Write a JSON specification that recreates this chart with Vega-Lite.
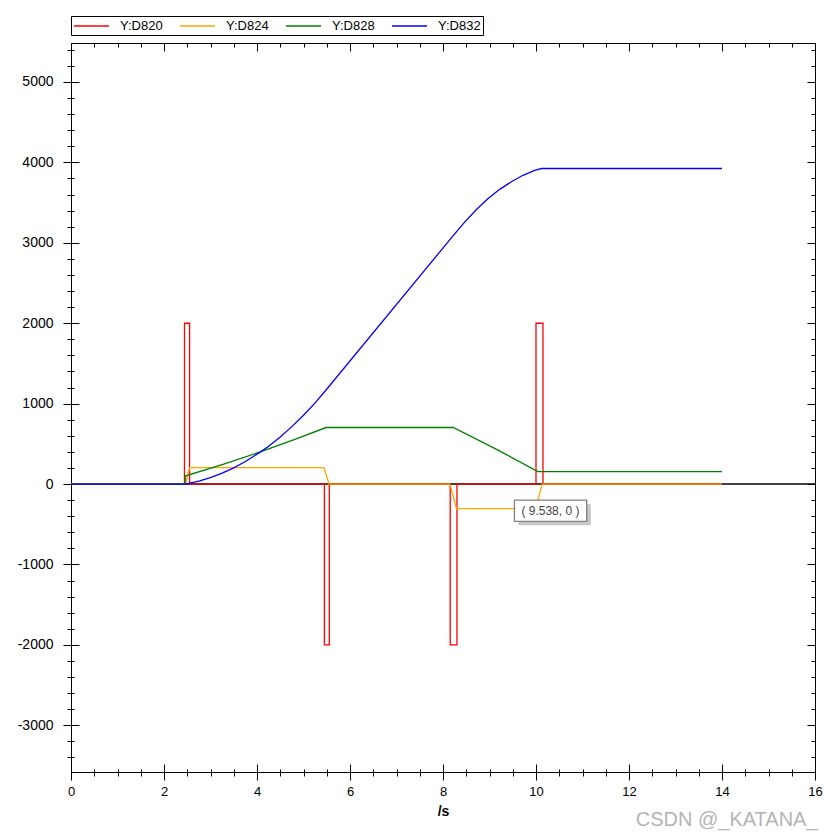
{
  "$schema": "https://vega.github.io/schema/vega-lite/v6.json",
  "width": 744,
  "height": 729,
  "autosize": {"type": "none"},
  "padding": {"left": 71, "top": 43, "right": 25, "bottom": 68},
  "background": "white",
  "view": {"stroke": "black", "strokeWidth": 1},
  "config": {
    "axis": {"domain": false, "grid": false, "tickColor": "black", "tickWidth": 1, "labelColor": "black", "labelFont": "Liberation Sans", "titleFont": "Liberation Sans", "titleColor": "black"},
    "legend": {"labelFont": "Liberation Sans"}
  },
  "datasets": {
    "series": [
      {"s": "Y:D820", "i": 0, "t": 0, "v": 0},
      {"s": "Y:D820", "i": 1, "t": 2.44, "v": 0},
      {"s": "Y:D820", "i": 2, "t": 2.44, "v": 2000},
      {"s": "Y:D820", "i": 3, "t": 2.55, "v": 2000},
      {"s": "Y:D820", "i": 4, "t": 2.55, "v": 0},
      {"s": "Y:D820", "i": 5, "t": 5.45, "v": 0},
      {"s": "Y:D820", "i": 6, "t": 5.45, "v": -2000},
      {"s": "Y:D820", "i": 7, "t": 5.555, "v": -2000},
      {"s": "Y:D820", "i": 8, "t": 5.555, "v": 0},
      {"s": "Y:D820", "i": 9, "t": 8.155, "v": 0},
      {"s": "Y:D820", "i": 10, "t": 8.155, "v": -2000},
      {"s": "Y:D820", "i": 11, "t": 8.3, "v": -2000},
      {"s": "Y:D820", "i": 12, "t": 8.3, "v": 0},
      {"s": "Y:D820", "i": 13, "t": 10.0, "v": 0},
      {"s": "Y:D820", "i": 14, "t": 10.0, "v": 2000},
      {"s": "Y:D820", "i": 15, "t": 10.15, "v": 2000},
      {"s": "Y:D820", "i": 16, "t": 10.15, "v": 0},
      {"s": "Y:D820", "i": 17, "t": 14.0, "v": 0},
      {"s": "Y:D824", "i": 0, "t": 0, "v": 0},
      {"s": "Y:D824", "i": 1, "t": 2.46, "v": 0},
      {"s": "Y:D824", "i": 2, "t": 2.55, "v": 205},
      {"s": "Y:D824", "i": 3, "t": 5.44, "v": 205},
      {"s": "Y:D824", "i": 4, "t": 5.55, "v": 0},
      {"s": "Y:D824", "i": 5, "t": 8.15, "v": 0},
      {"s": "Y:D824", "i": 6, "t": 8.29, "v": -305},
      {"s": "Y:D824", "i": 7, "t": 10.0, "v": -305},
      {"s": "Y:D824", "i": 8, "t": 10.13, "v": 0},
      {"s": "Y:D824", "i": 9, "t": 14.0, "v": 0},
      {"s": "Y:D828", "i": 0, "t": 0, "v": 0},
      {"s": "Y:D828", "i": 1, "t": 2.455, "v": 0},
      {"s": "Y:D828", "i": 2, "t": 2.455, "v": 100},
      {"s": "Y:D828", "i": 3, "t": 3.3, "v": 250},
      {"s": "Y:D828", "i": 4, "t": 4.07, "v": 399},
      {"s": "Y:D828", "i": 5, "t": 4.8, "v": 552},
      {"s": "Y:D828", "i": 6, "t": 5.485, "v": 703},
      {"s": "Y:D828", "i": 7, "t": 8.22, "v": 703},
      {"s": "Y:D828", "i": 8, "t": 9.12, "v": 441},
      {"s": "Y:D828", "i": 9, "t": 10.04, "v": 155},
      {"s": "Y:D828", "i": 10, "t": 14.0, "v": 155},
      {"s": "Y:D832", "i": 0, "t": 0, "v": 0},
      {"s": "Y:D832", "i": 1, "t": 2.46, "v": 0},
      {"s": "Y:D832", "i": 2, "t": 2.75, "v": 36},
      {"s": "Y:D832", "i": 3, "t": 3.0, "v": 80},
      {"s": "Y:D832", "i": 4, "t": 3.25, "v": 136},
      {"s": "Y:D832", "i": 5, "t": 3.5, "v": 202},
      {"s": "Y:D832", "i": 6, "t": 3.75, "v": 280},
      {"s": "Y:D832", "i": 7, "t": 4.07, "v": 397},
      {"s": "Y:D832", "i": 8, "t": 4.25, "v": 471},
      {"s": "Y:D832", "i": 9, "t": 4.5, "v": 586},
      {"s": "Y:D832", "i": 10, "t": 4.75, "v": 714},
      {"s": "Y:D832", "i": 11, "t": 5.0, "v": 856},
      {"s": "Y:D832", "i": 12, "t": 5.25, "v": 1010},
      {"s": "Y:D832", "i": 13, "t": 5.485, "v": 1170},
      {"s": "Y:D832", "i": 14, "t": 8.22, "v": 3090},
      {"s": "Y:D832", "i": 15, "t": 8.47, "v": 3260},
      {"s": "Y:D832", "i": 16, "t": 8.72, "v": 3415},
      {"s": "Y:D832", "i": 17, "t": 8.97, "v": 3550},
      {"s": "Y:D832", "i": 18, "t": 9.22, "v": 3665},
      {"s": "Y:D832", "i": 19, "t": 9.47, "v": 3760},
      {"s": "Y:D832", "i": 20, "t": 9.72, "v": 3840},
      {"s": "Y:D832", "i": 21, "t": 9.97, "v": 3900},
      {"s": "Y:D832", "i": 22, "t": 10.12, "v": 3924},
      {"s": "Y:D832", "i": 23, "t": 14.0, "v": 3924}
    ],
    "tip": [
      {"label": "( 9.538, 0 )", "x1": 9.536, "x2": 11.09, "y1": -201, "y2": -463, "sx1": 9.62, "sx2": 11.18, "sy1": -251, "sy2": -512, "tx": 10.31, "ty": -332}
    ],
    "mark": [
      {"label": "CSDN @_KATANA_", "tx": 14.1, "ty": -4183}
    ]
  },
  "resolve": {"axis": {"x": "independent", "y": "independent"}},
  "layer": [
    {
      "data": {"values": [{"z": 0}]},
      "mark": {"type": "rule", "color": "black", "strokeWidth": 1.5},
      "encoding": {
        "y": {"field": "z", "type": "quantitative", "scale": {"domain": [-3581, 5485], "nice": false, "zero": false}, "axis": null}
      }
    },
    {
      "data": {"name": "series"},
      "mark": {"type": "line", "strokeWidth": 1.3, "interpolate": "linear"},
      "encoding": {
        "x": {"field": "t", "type": "quantitative", "scale": {"domain": [0, 16], "nice": false, "zero": false},
          "axis": {"orient": "bottom", "values": [0, 2, 4, 6, 8, 10, 12, 14, 16], "tickSize": 16, "offset": -8, "labelFontSize": 13, "labelPadding": 5, "labelFlush": false, "title": "/s", "titleFontSize": 14, "titleFontWeight": "bold", "titlePadding": 6}},
        "y": {"field": "v", "type": "quantitative", "scale": {"domain": [-3581, 5485], "nice": false, "zero": false},
          "axis": {"orient": "left", "values": [-3000, -2000, -1000, 0, 1000, 2000, 3000, 4000, 5000], "labelExpr": "'' + datum.value", "tickSize": 16, "offset": -8, "labelFontSize": 14, "labelPadding": 10, "labelFlush": false, "title": null}},
        "color": {"field": "s", "type": "nominal",
          "scale": {"domain": ["Y:D820", "Y:D824", "Y:D828", "Y:D832"], "range": ["#ff0000", "#ffa500", "#008000", "#0000ff"]},
          "legend": {"orient": "none", "legendX": 0, "legendY": -27, "direction": "horizontal", "title": null, "strokeColor": "black", "fillColor": "white", "padding": 2, "symbolType": "M-1,0H4", "symbolSize": 196, "symbolStrokeWidth": 1.3, "labelFontSize": 13, "labelColor": "black", "labelOffset": 31, "columnPadding": 14, "labelExpr": "datum.label == 'Y:D832' ? datum.label + '\u00a0\u00a0\u00a0' : datum.label"}},
        "order": {"field": "i", "type": "quantitative"}
      }
    },
    {
      "data": {"name": "tip"},
      "mark": {"type": "rect", "color": "#c8c8c8"},
      "encoding": {
        "x": {"field": "sx1", "type": "quantitative", "scale": {"domain": [0, 16], "nice": false, "zero": false},
          "axis": {"orient": "bottom", "values": [0, 0.5, 1, 1.5, 2, 2.5, 3, 3.5, 4, 4.5, 5, 5.5, 6, 6.5, 7, 7.5, 8, 8.5, 9, 9.5, 10, 10.5, 11, 11.5, 12, 12.5, 13, 13.5, 14, 14.5, 15, 15.5, 16], "tickSize": 7, "offset": -3, "labels": false, "title": null}},
        "x2": {"field": "sx2"},
        "y": {"field": "sy1", "type": "quantitative", "scale": {"domain": [-3581, 5485], "nice": false, "zero": false},
          "axis": {"orient": "left", "values": [-3400, -3200, -3000, -2800, -2600, -2400, -2200, -2000, -1800, -1600, -1400, -1200, -1000, -800, -600, -400, -200, 0, 200, 400, 600, 800, 1000, 1200, 1400, 1600, 1800, 2000, 2200, 2400, 2600, 2800, 3000, 3200, 3400, 3600, 3800, 4000, 4200, 4400, 4600, 4800, 5000, 5200, 5400], "tickSize": 7, "offset": -3, "labels": false, "title": null}},
        "y2": {"field": "sy2"}
      }
    },
    {
      "data": {"name": "tip"},
      "mark": {"type": "rect", "fill": "white", "stroke": "#808080", "strokeWidth": 1.3},
      "encoding": {
        "x": {"field": "x1", "type": "quantitative", "scale": {"domain": [0, 16], "nice": false, "zero": false},
          "axis": {"orient": "top", "values": [0, 2, 4, 6, 8, 10, 12, 14, 16], "tickSize": 8, "offset": -8, "labels": false, "title": null}},
        "x2": {"field": "x2"},
        "y": {"field": "y1", "type": "quantitative", "scale": {"domain": [-3581, 5485], "nice": false, "zero": false},
          "axis": {"orient": "right", "values": [-3000, -2000, -1000, 0, 1000, 2000, 3000, 4000, 5000], "tickSize": 8, "offset": -8, "labels": false, "title": null}},
        "y2": {"field": "y2"}
      }
    },
    {
      "data": {"name": "tip"},
      "mark": {"type": "text", "font": "Liberation Sans", "fontSize": 12, "color": "#444444", "align": "center", "baseline": "middle"},
      "encoding": {
        "x": {"field": "tx", "type": "quantitative", "scale": {"domain": [0, 16], "nice": false, "zero": false},
          "axis": {"orient": "top", "values": [0, 0.5, 1, 1.5, 2, 2.5, 3, 3.5, 4, 4.5, 5, 5.5, 6, 6.5, 7, 7.5, 8, 8.5, 9, 9.5, 10, 10.5, 11, 11.5, 12, 12.5, 13, 13.5, 14, 14.5, 15, 15.5, 16], "tickSize": 4, "offset": -4, "labels": false, "title": null}},
        "y": {"field": "ty", "type": "quantitative", "scale": {"domain": [-3581, 5485], "nice": false, "zero": false},
          "axis": {"orient": "right", "values": [-3400, -3200, -3000, -2800, -2600, -2400, -2200, -2000, -1800, -1600, -1400, -1200, -1000, -800, -600, -400, -200, 0, 200, 400, 600, 800, 1000, 1200, 1400, 1600, 1800, 2000, 2200, 2400, 2600, 2800, 3000, 3200, 3400, 3600, 3800, 4000, 4200, 4400, 4600, 4800, 5000, 5200, 5400], "tickSize": 4, "offset": -4, "labels": false, "title": null}},
        "text": {"field": "label"}
      }
    },
    {
      "data": {"name": "mark"},
      "mark": {"type": "text", "font": "Liberation Sans", "fontSize": 20, "color": "#b4b4b4", "align": "center", "baseline": "middle", "clip": false},
      "encoding": {
        "x": {"field": "tx", "type": "quantitative", "scale": {"domain": [0, 16], "nice": false, "zero": false}, "axis": null},
        "y": {"field": "ty", "type": "quantitative", "scale": {"domain": [-3581, 5485], "nice": false, "zero": false}, "axis": null},
        "text": {"field": "label"}
      }
    }
  ]
}
